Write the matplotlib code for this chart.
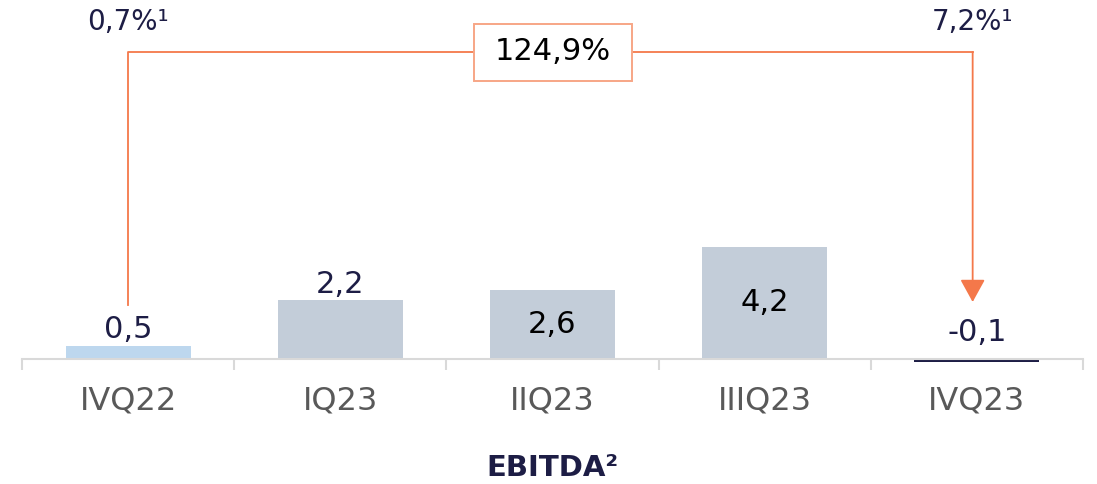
import matplotlib
matplotlib.use("Agg")
import matplotlib.pyplot as plt
from matplotlib.patches import FancyArrowPatch, Rectangle

categories = ["IVQ22", "IQ23", "IIQ23", "IIIQ23", "IVQ23"]
values = [0.5, 2.2, 2.6, 4.2, -0.1]
value_labels = ["0,5", "2,2", "2,6", "4,2", "-0,1"]
margin_start = "0,7%¹"
margin_end = "7,2%¹"
growth_label = "124,9%"
title = "EBITDA²"

bar_colors = ["#bdd7ee", "#c3cdd9", "#c3cdd9", "#c3cdd9", "#1d1d45"]
navy = "#1d1d45"
orange = "#f4784a"

plt.rcParams["font.family"] = ["DejaVu Sans"]

W, H = 1097, 484
fig = plt.figure(figsize=(W / 100, H / 100), dpi=100)
ax = fig.add_axes([22 / W, 0, 1061 / W, 1])

px_per_unit = 26.7
base_px = 359
ax.set_xlim(-0.5, len(categories) - 0.5)
ax.set_ylim(-(H - base_px) / px_per_unit, base_px / px_per_unit)

x = list(range(len(categories)))
ax.bar(x, values, width=0.59, color=bar_colors, zorder=2)

# axis styling
for s in ["top", "right", "left"]:
    ax.spines[s].set_visible(False)
ax.spines["bottom"].set_position(("data", 0))
ax.spines["bottom"].set_color("#d9d9d9")
ax.spines["bottom"].set_linewidth(1.5)
ax.set_yticks([])
ax.set_xticks(x)
ax.set_xticklabels(categories, fontsize=23, color="#595959")
ax.tick_params(axis="x", which="major", length=0, pad=19)
ax.set_xticks([i - 0.5 for i in range(len(categories) + 1)], minor=True)
ax.tick_params(axis="x", which="minor", length=8, width=1.5, color="#d9d9d9", direction="out")

def px2val(p):
    return (base_px - p) / px_per_unit

# value labels
for i, (v, lab) in enumerate(zip(values, value_labels)):
    if i in (2, 3):
        ax.text(i, v * 0.5, lab, ha="center", va="center", fontsize=22, color="black", zorder=3)
    else:
        y = max(v, 0) + (0.05 if i != 4 else 0.45)
        ax.text(i, y, lab, ha="center", va="bottom", fontsize=22, color=navy, zorder=3)

# bracket / growth annotation
bracket_y = px2val(52)
start_bottom = px2val(305)
end_tip = px2val(302)
xr = 4 - 0.02
ax.plot([0, 0, xr], [start_bottom, bracket_y, bracket_y], color=orange, lw=1.3, zorder=1)
arr = FancyArrowPatch((xr, bracket_y), (xr, end_tip), arrowstyle="-|>,head_length=1.0,head_width=0.55",
                      mutation_scale=14, color=orange, lw=1.3, shrinkA=0, shrinkB=0, zorder=1)
ax.add_patch(arr)
mid = 2.0
box_w = (632 - 474) / 1061 * 5
box_h = (79 - 22) / px_per_unit
ax.add_patch(Rectangle((mid - box_w / 2, bracket_y - box_h / 2), box_w, box_h,
                       fc="white", ec="#f7a686", lw=1.4, zorder=3))
ax.text(mid, bracket_y, growth_label, ha="center", va="center", fontsize=22, color="black", zorder=4)

ax.text(0, px2val(22), margin_start, ha="center", va="center", fontsize=20, color=navy)
ax.text(xr, px2val(22), margin_end, ha="center", va="center", fontsize=20, color=navy)

fig.text(552 / W, 1 - 468 / H, title, ha="center", va="center", fontsize=21, fontweight="bold", color=navy)

fig.savefig("out.png", dpi=100)
